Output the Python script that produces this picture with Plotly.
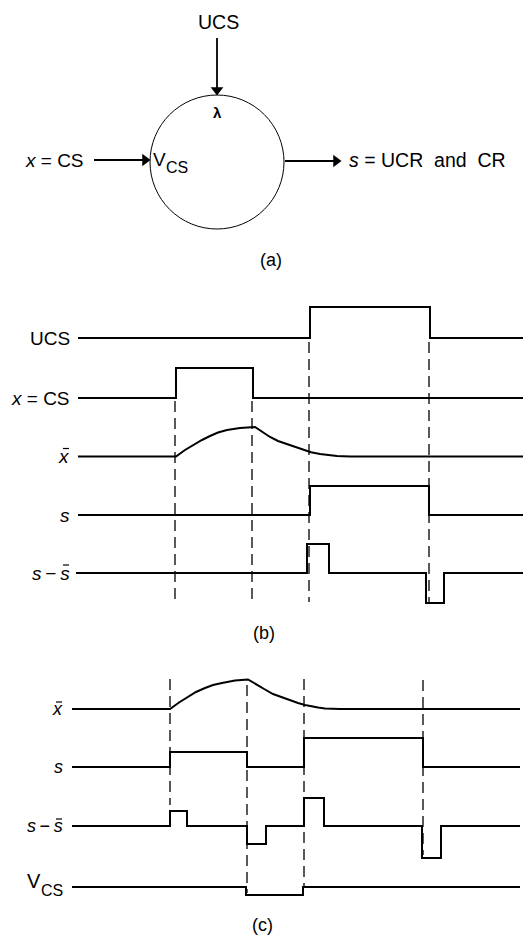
import plotly.graph_objects as go

# ---------------- data ----------------
# panel (b): time breakpoints and signal levels
B_EVENTS = [176, 253, 310, 430]            # CS on, CS off, UCS on, UCS off
UCS_B_T = [78, 310, 430, 523]
UCS_B_V = [0, 31, 0, 0]
CS_B_T = [78, 176, 253, 523]
CS_B_V = [0, 30, 0, 0]
XBAR_B_T = [78, 176, 185, 193, 202, 210, 218, 227, 240, 255, 262, 270, 278, 287, 295, 303, 311, 320, 328, 337, 350, 523]
XBAR_B_V = [0, 0, 6.5, 11.5, 16.5, 20.5, 24, 26.5, 28.5, 29.5, 24.5, 19.5, 15.5, 12.5, 9.5, 6.5, 4.2, 2.5, 1.3, 0.5, 0, 0]
S_B_T = [78, 310, 429, 523]
S_B_V = [0, 29, 0, 0]
DS_B_T = [76, 307, 329, 426, 444, 523]
DS_B_V = [0, 29, 0, -30, 0, 0]

# panel (c)
C_EVENTS = [170, 247, 304, 423]
XBAR_C_T = [72, 170, 179, 188, 196, 205, 213, 222, 235, 248, 256, 265, 273, 282, 290, 298, 305, 312, 318, 325, 340, 520]
XBAR_C_V = [0, 0, 6.5, 12, 17, 21, 24, 26, 28.5, 29.5, 24.5, 19.5, 15, 11.5, 8.5, 6, 4, 2.5, 1.4, 0.5, 0, 0]
S_C_T = [72, 170, 247, 304, 423, 520]
S_C_V = [0, 15, 0, 29, 0, 0]
DS_C_T = [72, 170, 187, 247, 266, 304, 324, 422, 441, 520]
DS_C_V = [0, 15, 0, -18, 0, 28, 0, -32, 0, 0]
VCS_C_T = [72, 246, 303, 520]
VCS_C_V = [0, -8, 0, 0]

# row labels; a bar (mean) is drawn over the last letter when flagged
TS = "\u2009"  # thin space
LABELS_B = ["UCS", "<i>x</i> = CS", "<i>x</i>", "<i>s</i>", "<i>s</i>" + TS + "−" + TS + "<i>s</i>"]
BARRED_B = [False, False, True, False, True]
LABELS_C = ["<i>x</i>", "<i>s</i>", "<i>s</i>" + TS + "−" + TS + "<i>s</i>"]
BARRED_C = [True, False, True]

# ---------------- layout constants ----------------
W, H = 526, 936
FONT = "Liberation Sans, Arial, sans-serif"
LW = 2

fig = go.Figure()


def add_signal(t, v, base, shape="hv"):
    fig.add_trace(go.Scatter(
        x=t, y=[base - a for a in v], mode="lines",
        line=dict(color="black", width=LW, shape=shape),
        hoverinfo="skip", showlegend=False))


# panel (b)
B_BASE = [338, 398, 456.5, 515, 573]
add_signal(UCS_B_T, UCS_B_V, B_BASE[0])
add_signal(CS_B_T, CS_B_V, B_BASE[1])
add_signal(XBAR_B_T, XBAR_B_V, B_BASE[2], shape="linear")
add_signal(S_B_T, S_B_V, B_BASE[3])
add_signal(DS_B_T, DS_B_V, B_BASE[4])

# panel (c)
C_BASE = [709, 767, 826, 887]
add_signal(XBAR_C_T, XBAR_C_V, C_BASE[0], shape="linear")
add_signal(S_C_T, S_C_V, C_BASE[1])
add_signal(DS_C_T, DS_C_V, C_BASE[2])
add_signal(VCS_C_T, VCS_C_V, C_BASE[3])

shapes = []
dash = dict(color="black", width=1.3, dash="11px,6px")
# dashed event lines (b)
b_spans = [(401, 602), (401, 602), (342, 602), (342, 602)]
for t, (y0, y1) in zip(B_EVENTS, b_spans):
    shapes.append(dict(type="line", x0=t - 1, x1=t - 1, y0=y0, y1=y1, line=dash))
# dashed event lines (c)
c_spans = [(679, 805), (685, 893), (679, 887), (680, 855)]
for t, (y0, y1) in zip(C_EVENTS, c_spans):
    shapes.append(dict(type="line", x0=t, x1=t, y0=y0, y1=y1, line=dash))

# panel (a) circle and arrow shafts
shapes.append(dict(type="circle", x0=150, x1=284, y0=95, y1=229,
                   line=dict(color="black", width=1)))
solid = dict(color="black", width=1.8)
shapes.append(dict(type="line", x0=217, x1=217, y0=38, y1=88, line=solid))
shapes.append(dict(type="line", x0=94, x1=143, y0=160, y1=160, line=solid))
shapes.append(dict(type="line", x0=285, x1=334, y0=161, y1=161, line=solid))

# arrow heads
fig.add_trace(go.Scatter(
    x=[217, 145, 336], y=[90, 160, 161], mode="markers",
    marker=dict(symbol=["triangle-down", "triangle-right", "triangle-right"],
                size=11, color="black", line=dict(width=0)),
    hoverinfo="skip", showlegend=False))

ann = []


def text(x, y, s, size=17, xa="center", ya="middle"):
    ann.append(dict(x=x, y=y, text=s, showarrow=False, xanchor=xa, yanchor=ya,
                    borderpad=0, borderwidth=0,
                    font=dict(family=FONT, size=size, color="black")))


def bar(xr, y):
    # overbar on the last (italic) letter of a right-anchored label
    shapes.append(dict(type="line", x0=xr - 7, x1=xr - 1, y0=y, y1=y,
                       line=dict(color="black", width=1.2)))


# panel (a)
text(218, 22, "UCS", size=19.5)
text(217, 112, "<b>λ</b>", size=15)
text(84, 160, "<i>x</i> = CS", size=19, xa="right")
text(166, 159, "V", size=19, xa="right")
text(166, 167, "CS", size=16, xa="left")
text(349, 160, "<i>s</i> = UCR  and  CR", size=19.5, xa="left")
text(271, 260, "(a)", size=18)

# panel (b) labels
for lab, base, b in zip(LABELS_B, B_BASE, BARRED_B):
    text(70, base, lab, size=19, xa="right")
    if b:
        bar(70, base - 8)
text(264, 633, "(b)", size=18)

# panel (c) labels
for lab, base, b in zip(LABELS_C, C_BASE, BARRED_C):
    text(63, base, lab, size=18, xa="right")
    if b:
        bar(63, base - 7)
text(41, C_BASE[3] - 6, "V", size=20, xa="right")
text(41, C_BASE[3] + 3, "CS", size=16, xa="left")
text(262, 925, "(c)", size=18)

fig.update_layout(
    width=W, height=H, margin=dict(l=0, r=0, t=0, b=0),
    paper_bgcolor="white", plot_bgcolor="white",
    xaxis=dict(range=[0, W], visible=False, fixedrange=True),
    yaxis=dict(range=[H, 0], visible=False, fixedrange=True),
    shapes=shapes, annotations=ann, showlegend=False)

fig.write_html("out.html")
